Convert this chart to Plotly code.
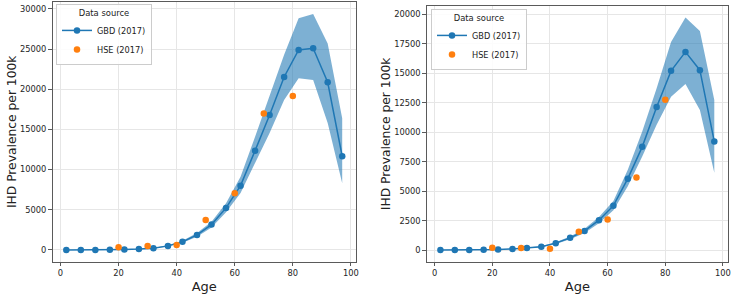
import plotly.graph_objects as go

ages = [2, 7, 12, 17, 22, 27, 32, 37, 42, 47, 52, 57, 62, 67, 72, 77, 82, 87, 92, 97]
hse_ages = [20, 30, 40, 50, 60, 70, 80]

# Left panel
gbd_left = [0, 0, 0, 10, 50, 100, 200, 500, 1000, 1870, 3150, 5230, 8000, 12360, 16800, 21530, 24900, 25100, 20870, 11660]
gbd_left_lo = [0, 0, 0, 5, 40, 80, 170, 430, 880, 1650, 2800, 4700, 7100, 10800, 14550, 18680, 21380, 21170, 15800, 8300]
gbd_left_hi = [0, 0, 0, 15, 60, 120, 240, 580, 1130, 2100, 3500, 5800, 9100, 14100, 19100, 24300, 28850, 29390, 25700, 16400]
hse_left = [330, 500, 620, 3730, 7050, 17000, 19170]

# Right panel
gbd_right = [0, 0, 0, 20, 50, 100, 170, 280, 590, 1040, 1630, 2540, 3770, 6060, 8760, 12140, 15210, 16820, 15270, 9210]
gbd_right_lo = [0, 0, 0, 15, 40, 85, 145, 240, 520, 920, 1450, 2280, 3380, 5410, 7950, 10630, 13020, 14090, 11890, 6560]
gbd_right_hi = [0, 0, 0, 25, 60, 115, 195, 320, 660, 1160, 1810, 2800, 4160, 6820, 10060, 13730, 17670, 19730, 18600, 12740]
hse_right = [200, 170, 110, 1550, 2590, 6170, 12760]

x_ticks = [0, 20, 40, 60, 80, 100]
y_ticks_left = [0, 5000, 10000, 15000, 20000, 25000, 30000]
y_ticks_right = [0, 2500, 5000, 7500, 10000, 12500, 15000, 17500, 20000]

BLUE = "#1f77b4"
ORANGE = "#ff7f0e"
BAND = "rgba(31,119,180,0.58)"
FONT = "DejaVu Sans"
W, H = 731, 295

fig = go.Figure()

def add_panel(xa, ya, legend, mean, lo, hi, hse):
    fig.add_trace(go.Scatter(x=ages, y=lo, mode="lines", line=dict(width=0, color=BAND),
                             showlegend=False, hoverinfo="skip", xaxis=xa, yaxis=ya))
    fig.add_trace(go.Scatter(x=ages, y=hi, mode="lines", line=dict(width=0, color=BAND),
                             fill="tonexty", fillcolor=BAND, showlegend=False, hoverinfo="skip",
                             xaxis=xa, yaxis=ya))
    fig.add_trace(go.Scatter(x=ages, y=mean, mode="lines+markers", name="GBD (2017)",
                             line=dict(color=BLUE, width=1.5), marker=dict(color=BLUE, size=6.5),
                             xaxis=xa, yaxis=ya, legend=legend))
    fig.add_trace(go.Scatter(x=hse_ages, y=hse, mode="markers", name="HSE (2017)",
                             marker=dict(color=ORANGE, size=6.5),
                             xaxis=xa, yaxis=ya, legend=legend))

add_panel("x", "y", "legend", gbd_left, gbd_left_lo, gbd_left_hi, hse_left)
add_panel("x2", "y2", "legend2", gbd_right, gbd_right_lo, gbd_right_hi, hse_right)

axis_common = dict(showgrid=True, gridcolor="#e6e6e6", gridwidth=1, zeroline=False,
                   showline=True, linecolor="#5a5a5a", linewidth=1, mirror=True,
                   ticks="outside", ticklen=3.5, tickcolor="#5a5a5a", tickwidth=1,
                   automargin=False,
                   tickfont=dict(family=FONT, size=8.3, color="#262626"))

def px_x(p):
    return p / W

def px_y(p):
    return 1 - p / H

legend_common = dict(xanchor="left", yanchor="top", traceorder="normal",
                     bgcolor="rgba(255,255,255,0.85)", bordercolor="#cccccc", borderwidth=1,
                     font=dict(family=FONT, size=8.2, color="#222222"),
                     title=dict(text="Data source", side="top center", font=dict(family=FONT, size=8.4)),
                     itemwidth=30, tracegroupgap=0)

fig.update_layout(
    template="none",
    width=W, height=H,
    margin=dict(l=0, r=0, t=0, b=0, autoexpand=False),
    paper_bgcolor="white", plot_bgcolor="white",
    font=dict(family=FONT, color="#222222"),
    xaxis=dict(domain=[px_x(52.5), px_x(356)], range=[-2.75, 101.75], tickvals=x_ticks,
               ticktext=[str(v) for v in x_ticks], anchor="y",
               title=dict(text="Age", font=dict(family=FONT, size=13, color="#222222"), standoff=4),
               **axis_common),
    yaxis=dict(domain=[px_y(261.7), px_y(2)], range=[-1470, 30870], tickvals=y_ticks_left,
               ticktext=[str(v) for v in y_ticks_left], anchor="x",
               title=dict(text="IHD Prevalence per 100k", font=dict(family=FONT, size=12.3, color="#222222"), standoff=0),
               **axis_common),
    xaxis2=dict(domain=[px_x(426.7), px_x(728)], range=[-2.75, 101.75], tickvals=x_ticks,
                ticktext=[str(v) for v in x_ticks], anchor="y2",
                title=dict(text="Age", font=dict(family=FONT, size=13, color="#222222"), standoff=4),
                **axis_common),
    yaxis2=dict(domain=[px_y(261.7), px_y(6)], range=[-986, 20716], tickvals=y_ticks_right,
                ticktext=[str(v) for v in y_ticks_right], anchor="x2",
                title=dict(text="IHD Prevalence per 100k", font=dict(family=FONT, size=12.3, color="#222222"), standoff=0),
                **axis_common),
    legend=dict(x=px_x(56), y=px_y(4), **legend_common),
    legend2=dict(x=px_x(431), y=px_y(9), **legend_common),
    showlegend=True,
)

fig.write_html("out.html", config={"displayModeBar": False},
               post_script="document.body.style.margin='0';document.body.style.padding='0';document.body.style.overflow='hidden';")
